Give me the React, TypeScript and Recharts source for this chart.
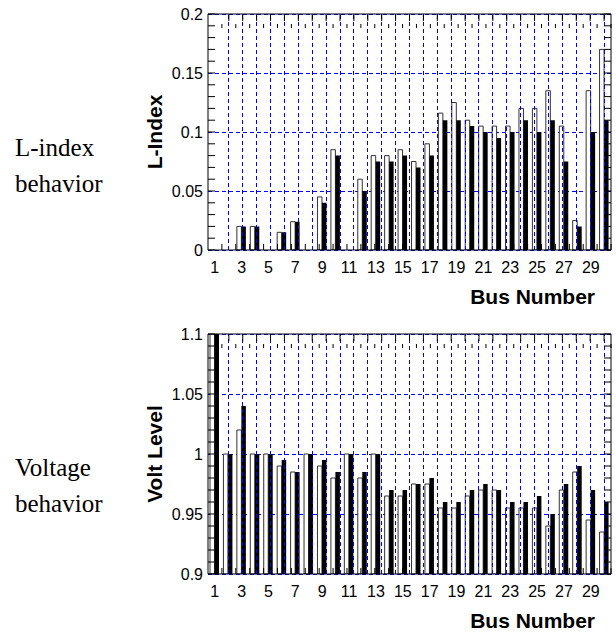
import { BarChart, Bar, XAxis, YAxis, CartesianGrid, ReferenceLine } from "recharts";

const buses = [1, 2, 3, 4, 5, 6, 7, 8, 9, 10, 11, 12, 13, 14, 15, 16, 17, 18, 19, 20, 21, 22, 23, 24, 25, 26, 27, 28, 29, 30];

// white bars / black bars
const lIndexBefore = [0, 0, 0.02, 0.02, 0, 0.015, 0.024, 0, 0.045, 0.085, 0, 0.06, 0.08, 0.08, 0.085, 0.075, 0.09, 0.116, 0.125, 0.11, 0.105, 0.105, 0.105, 0.12, 0.12, 0.135, 0.105, 0.025, 0.135, 0.17];
const lIndexAfter = [0, 0, 0.02, 0.02, 0, 0.015, 0.024, 0, 0.04, 0.08, 0, 0.05, 0.075, 0.075, 0.08, 0.07, 0.08, 0.11, 0.11, 0.105, 0.1, 0.095, 0.1, 0.11, 0.1, 0.11, 0.075, 0.02, 0.1, 0.11];
const voltBefore = [1.1, 1, 1.02, 1, 1, 0.99, 0.985, 1, 0.99, 0.98, 1, 0.98, 1, 0.965, 0.965, 0.975, 0.975, 0.955, 0.955, 0.965, 0.97, 0.97, 0.955, 0.955, 0.955, 0.94, 0.97, 0.985, 0.945, 0.935];
const voltAfter = [1.1, 1, 1.04, 1, 1, 0.995, 0.985, 1, 0.995, 0.985, 1, 0.985, 1, 0.97, 0.97, 0.975, 0.98, 0.96, 0.96, 0.97, 0.975, 0.97, 0.96, 0.96, 0.965, 0.95, 0.975, 0.99, 0.97, 0.96];

const lIndexTicks = [0, 0.05, 0.1, 0.15, 0.2];
const voltTicks = [0.9, 0.95, 1, 1.05, 1.1];
const gridBuses = buses.slice(0, 29).map((b) => b + 0.5);
const lIndexMinor = Array.from({ length: 21 }, (_, i) => +(i * 0.01).toFixed(2));
const voltMinor = Array.from({ length: 21 }, (_, i) => +(0.9 + i * 0.01).toFixed(2));

const lIndexData = buses.map((bus, i) => ({ bus, before: lIndexBefore[i], after: lIndexAfter[i] }));
const voltData = buses.map((bus, i) => ({ bus, before: voltBefore[i], after: voltAfter[i] }));

const SANS = "'Liberation Sans', Arial, sans-serif";
const SERIF = "'Liberation Serif', 'Times New Roman', serif";
const BLUE = "#0000ff";
const noLabel = () => "";

function BusChart({ data, domain, ticks, minor, yLabel, height }: any) {
  return (
    <BarChart width={616} height={height} data={data} margin={{ top: 14, right: 5, bottom: 0, left: 0 }} barGap={0}>
      <CartesianGrid vertical={false} stroke={BLUE} strokeDasharray="4 3" shapeRendering="crispEdges" />
      <XAxis
        dataKey="bus"
        interval={1}
        height={70}
        tickLine={false}
        tickSize={6}
        tickMargin={6}
        axisLine={{ stroke: "#000" }}
        tick={{ fill: "#000", fontSize: 16, fontFamily: SANS }}
        label={{
          value: "Bus Number",
          position: "insideBottomRight",
          offset: 16,
          style: { fontWeight: "bold", fontSize: 21, fill: "#000", fontFamily: SANS },
        }}
      />
      <XAxis xAxisId="num" type="number" domain={[0.5, 30.5]} allowDataOverflow ticks={buses} interval={0} mirror height={10}
        tickFormatter={noLabel} tickSize={6} axisLine={false} tickLine={{ stroke: "#000" }} />
      <XAxis xAxisId="topLong" orientation="top" type="number" domain={[0.5, 30.5]} allowDataOverflow ticks={gridBuses} interval={0}
        mirror height={10} tickFormatter={noLabel} tickSize={7} axisLine={{ stroke: "#000" }} tickLine={{ stroke: "#000" }} />
      <XAxis xAxisId="topShort" orientation="top" type="number" domain={[0.5, 30.5]} allowDataOverflow ticks={buses} interval={0}
        mirror height={10} tickFormatter={noLabel} tickSize={4} axisLine={false} tickLine={{ stroke: "#000" }} />
      <YAxis
        domain={domain}
        ticks={ticks}
        allowDataOverflow
        width={208}
        tickLine={false}
        tickSize={0}
        tickMargin={5}
        axisLine={{ stroke: "#000" }}
        tick={{ fill: "#000", fontSize: 16, fontFamily: SANS }}
        label={{
          value: yLabel,
          angle: -90,
          position: "insideLeft",
          offset: 155,
          style: { textAnchor: "middle", fontWeight: "bold", fontSize: 21, fill: "#000", fontFamily: SANS },
        }}
      />
      <YAxis yAxisId="minorL" type="number" domain={domain} allowDataOverflow ticks={minor} interval={0} mirror width={10}
        tickFormatter={noLabel} tickSize={7} axisLine={false} tickLine={{ stroke: "#000" }} />
      <YAxis yAxisId="minorR" type="number" orientation="right" domain={domain} allowDataOverflow ticks={minor} interval={0} mirror width={10}
        tickFormatter={noLabel} tickSize={7} axisLine={{ stroke: "#000" }} tickLine={{ stroke: "#000" }} />
      {gridBuses.map((x) => (
        <ReferenceLine key={x} xAxisId="num" x={x} stroke={BLUE} strokeDasharray="4 3" shapeRendering="crispEdges" />
      ))}
      <Bar dataKey="before" fill="#fff" stroke="#333" strokeWidth={1} barSize={4.5} isAnimationActive={false} />
      <Bar dataKey="after" fill="#000" barSize={4.5} isAnimationActive={false} />
    </BarChart>
  );
}

const sideText = { position: "absolute" as const, left: 15, fontFamily: SERIF, fontSize: 25, lineHeight: "36px", color: "#000" };

export default function App() {
  return (
    <div style={{ position: "absolute", left: 0, top: 0, width: 616, height: 633, overflow: "hidden", background: "#fff" }}>
      <div style={{ ...sideText, top: 130 }}>L-index<br />behavior</div>
      <div style={{ ...sideText, top: 450 }}>Voltage<br />behavior</div>
      <div style={{ position: "absolute", left: 0, top: 0 }}>
        <BusChart data={lIndexData} domain={[0, 0.2]} ticks={lIndexTicks} minor={lIndexMinor} yLabel="L-Index" height={320} />
      </div>
      <div style={{ position: "absolute", left: 0, top: 320 }}>
        <BusChart data={voltData} domain={[0.9, 1.1]} ticks={voltTicks} minor={voltMinor} yLabel="Volt Level" height={324} />
      </div>
    </div>
  );
}
